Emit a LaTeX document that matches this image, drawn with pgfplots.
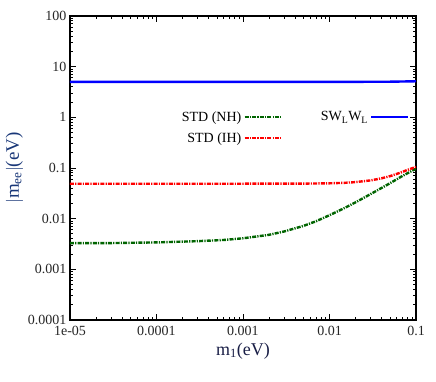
\documentclass[border=0pt]{standalone}
\usepackage{fontspec}
\setmainfont{Liberation Serif}
\usepackage{pgfplots}
\pgfplotsset{compat=1.18}
\definecolor{ylab}{RGB}{25,55,120}
\definecolor{xlab}{RGB}{25,30,70}
\definecolor{nhgreen}{RGB}{0,100,0}
\begin{document}
\begin{tikzpicture}
\begin{axis}[
  scale only axis,
  width=346pt, height=304pt,
  xmode=log, ymode=log,
  xmin=1e-5, xmax=0.1, ymin=1e-4, ymax=100,
  axis line style={line width=1.4pt},
  every tick/.style={black, line width=0.9pt},
  major tick length=6pt, minor tick length=3pt,
  xtick={1e-5,1e-4,1e-3,1e-2,1e-1},
  xticklabels={1e-05,0.0001,0.001,0.01,0.1},
  ytick={1e-4,1e-3,1e-2,1e-1,1,10,100},
  yticklabels={0.0001,0.001,0.01,0.1,1,10,100},
  tick label style={font=\fontsize{14}{16}\selectfont, text=black!85},
  xticklabel style={yshift=-3pt},
  /pgf/number format/assume math mode=true,
  xlabel={m\textsubscript{1}(eV)},
  ylabel={$|$m\textsubscript{ee}$|$(eV)},
  xlabel style={font=\fontsize{18}{20}\selectfont, text=xlab, yshift=0pt},
  ylabel style={font=\fontsize{19}{21}\selectfont, text=ylab, yshift=-2pt},
  legend columns=2,
  legend plot pos=right,
  legend cell align=right,
  legend image code/.code={\draw[#1] (0cm,0cm) -- (1.3cm,0cm);},
  legend style={draw=none, fill=none, font=\fontsize{14}{16}\selectfont,
    at={(rel axis cs:0.99,0.70)}, anchor=north east,
    row sep=6pt,
    /tikz/every even column/.append style={column sep=36pt}},
]
\coordinate (sw) at (rel axis cs:0,0);
\addplot[nhgreen, line width=2.4pt, dash pattern=on 4pt off 1.2pt on 1.2pt off 1.2pt] coordinates {
(1e-5,0.0033) (3e-5,0.0033) (1e-4,0.0034) (3e-4,0.0036) (6e-4,0.0038) (1e-3,0.0041)
(2e-3,0.0048) (3e-3,0.0056) (5e-3,0.0072) (7e-3,0.0089) (0.01,0.0117) (0.015,0.0163)
(0.02,0.021) (0.03,0.0307) (0.05,0.050) (0.07,0.070) (0.1,0.097)};
\addlegendentry{STD (NH)}
\addplot[blue, line width=2.4pt] coordinates {
(1e-5,5.0) (1e-3,5.0) (0.01,5.0) (0.05,5.05) (0.1,5.15)};
\addlegendentry{SW\textsubscript{L}W\textsubscript{L}}
\addplot[red, line width=2.4pt, dash pattern=on 4pt off 1.2pt on 1.2pt off 1.2pt] coordinates {
(1e-5,0.049) (1e-3,0.049) (5e-3,0.0492) (0.01,0.0499) (0.015,0.051) (0.02,0.0527)
(0.03,0.057) (0.04,0.0626) (0.05,0.069) (0.06,0.0765) (0.07,0.084) (0.08,0.092) (0.1,0.105)};
\addlegendentry{STD (IH)}
\end{axis}
\path (sw) ++(-70pt,-61pt) rectangle ++(436pt,381pt);
\end{tikzpicture}
\end{document}
